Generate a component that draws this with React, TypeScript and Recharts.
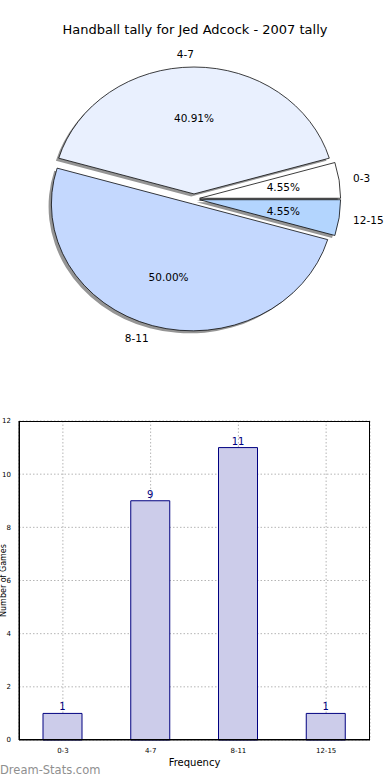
import React from 'react';
import {
  PieChart,
  Pie,
  Cell,
  BarChart,
  Bar,
  XAxis,
  YAxis,
  CartesianGrid,
  LabelList,
  Label
} from 'recharts';

// tally ranges and how many games fell in each
const categories = ['0-3', '4-7', '8-11', '12-15'];
const tallies = [1, 9, 11, 1];
const sliceColors = ['#ffffff', '#e9f0fe', '#c4d8fe', '#b3d5fe'];
const yTicks = [0, 2, 4, 6, 8, 10, 12];

const FONT = '"DejaVu Sans", sans-serif';

// pie geometry (matplotlib draws it as an ellipse, so squash vertically)
const PIE_CX = 194;
const PIE_CY = 199;
const R = 141;
const SQUASH = 0.9;
const EXPLODE = 0.04 * R;
const SHADOW = 0.02 * R;

const total = tallies.reduce((s, v) => s + v, 0);
const pieData = categories.map((name, i) => ({ name, value: tallies[i] }));
const barData = categories.map((range, i) => ({ range, games: tallies[i] }));

// mid angle of every slice, used for the explode offset
const midAngles = tallies.map((v, i) => {
  const before = tallies.slice(0, i).reduce((s, x) => s + x, 0);
  return (360 * (before + v / 2)) / total;
});

const rad = (deg: number) => (deg * Math.PI) / 180;

const labelFor = (idx: number) => (props: any) => {
  if (props.index !== idx) return null;
  const { cx, cy, midAngle, outerRadius, percent, name } = props;
  const c = Math.cos(rad(midAngle));
  const s = -Math.sin(rad(midAngle));
  const nx = cx + outerRadius * 1.1 * c;
  const ny = cy + outerRadius * 1.1 * s;
  const px = cx + outerRadius * 0.6 * c;
  const py = cy + outerRadius * 0.6 * s;
  const txt = { fontSize: 10.5, fontFamily: FONT, fill: '#000' };
  return (
    <g>
      <text
        transform={`translate(${nx},${ny}) scale(1,${1 / SQUASH})`}
        textAnchor={c >= 0 ? 'start' : 'end'}
        dominantBaseline="central"
        style={txt}
      >
        {name}
      </text>
      <text
        transform={`translate(${px},${py}) scale(1,${1 / SQUASH})`}
        textAnchor="middle"
        dominantBaseline="central"
        style={txt}
      >
        {`${(percent * 100).toFixed(2)}%`}
      </text>
    </g>
  );
};

const slicePie = (idx: number, shadow: boolean) => {
  const dx = EXPLODE * Math.cos(rad(midAngles[idx])) + (shadow ? -SHADOW : 0);
  const dy = -EXPLODE * Math.sin(rad(midAngles[idx])) + (shadow ? SHADOW : 0);
  return (
    <Pie
      key={`${shadow ? 's' : 'p'}-${idx}`}
      data={pieData}
      dataKey="value"
      nameKey="name"
      cx={PIE_CX + dx}
      cy={PIE_CY + dy}
      outerRadius={R}
      innerRadius={0}
      startAngle={0}
      endAngle={360}
      label={shadow ? false : labelFor(idx)}
      labelLine={false}
      isAnimationActive={false}
    >
      {pieData.map((_, j) => (
        <Cell
          key={`c-${j}`}
          fill={j === idx ? (shadow ? '#959595' : sliceColors[j]) : 'none'}
          stroke={j === idx && !shadow ? '#000' : 'none'}
          strokeWidth={0.8}
        />
      ))}
    </Pie>
  );
};

export default function App() {
  return (
    <div
      style={{
        position: 'absolute',
        left: 0,
        top: 0,
        width: 390,
        height: 780,
        background: '#fff',
        overflow: 'hidden',
        fontFamily: FONT
      }}
    >
      <div
        style={{
          position: 'absolute',
          top: 22,
          left: 0,
          width: 390,
          textAlign: 'center',
          fontSize: 13,
          lineHeight: '16px',
          color: '#000'
        }}
      >
        Handball tally for Jed Adcock - 2007 tally
      </div>

      <div
        style={{
          position: 'absolute',
          left: 0,
          top: 0,
          width: 390,
          height: 400,
          transform: `scaleY(${SQUASH})`,
          transformOrigin: `${PIE_CX}px ${PIE_CY}px`
        }}
      >
        <PieChart width={390} height={400} margin={{ top: 0, right: 0, bottom: 0, left: 0 }}>
          {categories.map((_, i) => slicePie(i, true))}
          {categories.map((_, i) => slicePie(i, false))}
        </PieChart>
      </div>

      <div style={{ position: 'absolute', left: 0, top: 410, width: 390, height: 370 }}>
        <BarChart
          width={390}
          height={370}
          data={barData}
          margin={{ top: 11, right: 20, bottom: 0, left: 0 }}
        >
          <CartesianGrid stroke="#b5b5b5" strokeDasharray="1.5 2" />
          <XAxis
            dataKey="range"
            height={40}
            interval={0}
            tickLine={false}
            axisLine={{ stroke: '#000' }}
            tick={{ fontSize: 7, fill: '#000', fontFamily: FONT }}
            tickMargin={2}
          >
            <Label
              value="Frequency"
              position="insideBottom"
              offset={14}
              style={{ fontSize: 10, fill: '#000', fontFamily: FONT }}
            />
          </XAxis>
          <YAxis
            domain={[0, 12]}
            ticks={yTicks}
            interval={0}
            width={19}
            tickLine={false}
            axisLine={{ stroke: '#000' }}
            tick={{ fontSize: 7, fill: '#000', fontFamily: FONT }}
            tickMargin={2}
          >
            <Label
              value="Number of Games"
              angle={-90}
              position="insideLeft"
              offset={3}
              style={{ fontSize: 8, fill: '#000', fontFamily: FONT, textAnchor: 'middle' }}
            />
          </YAxis>
          <Bar
            dataKey="games"
            barSize={39}
            fill="#ccccea"
            stroke="#000080"
            strokeWidth={1}
            isAnimationActive={false}
          >
            <LabelList
              dataKey="games"
              position="top"
              offset={3}
              style={{ fill: '#000080', fontSize: 10, fontFamily: FONT }}
            />
          </Bar>
        </BarChart>
        <div
          style={{
            position: 'absolute',
            left: 19,
            top: 11,
            width: 351,
            height: 319,
            border: '1px solid #000',
            boxSizing: 'border-box',
            pointerEvents: 'none'
          }}
        />
      </div>

      <div
        style={{
          position: 'absolute',
          left: 0,
          top: 763,
          fontSize: 11.5,
          lineHeight: '14px',
          color: '#8f8f8f'
        }}
      >
        Dream-Stats.com
      </div>
    </div>
  );
}
